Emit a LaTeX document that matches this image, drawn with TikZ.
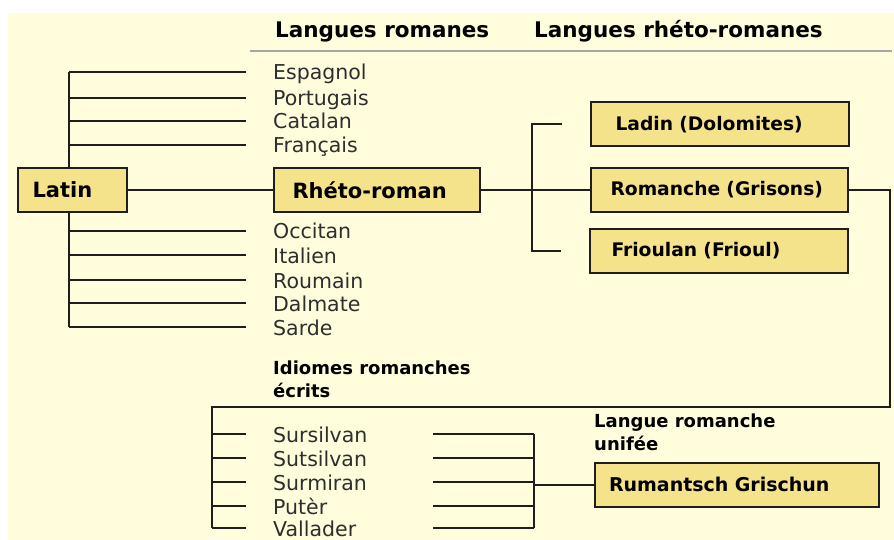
\documentclass[tikz,border=0pt]{standalone}
\usepackage{fontspec}
\setmainfont{DejaVu Sans}
\definecolor{creme}{RGB}{255,253,220}
\definecolor{gelb}{RGB}{245,227,140}
\definecolor{strich}{RGB}{30,30,30}
\tikzset{
	kasten/.style={draw=strich, line width=2pt, fill=gelb, rectangle, minimum height=44pt, align=left, font=\bfseries\fontsize{21}{24}\selectfont},
	kastenklein/.style={kasten, font=\bfseries\fontsize{18.7}{22}\selectfont},
	sprache/.style={anchor=west, inner sep=0pt, text height=19pt, text depth=3pt, text=black!82, font=\fontsize{20.5}{24}\selectfont},
	titel/.style={anchor=base west, inner sep=0pt, font=\bfseries\fontsize{21.5}{26}\selectfont},
	untertitel/.style={anchor=base west, inner sep=0pt, align=left, font=\bfseries\fontsize{18}{23}\selectfont},
	ast/.style={draw=strich, line width=2pt}
}
\begin{document}
\begin{tikzpicture}[x=1pt,y=-1pt]
		\useasboundingbox (0,0) rectangle (894,540);
		% Hintergrund
		\fill[creme] (8,13) rectangle (894,540);
		\draw[gray!70, line width=1.5pt] (250,51) -- (892,51);
		% Titel
		\node[titel] (romanes) at (275,38) {Langues romanes};
		\node[titel] (rhetoromanes) at (534,38) {Langues rhéto-romanes};
		% Stamm Latin
		\coordinate (stamm-o) at (69,72);
		\coordinate (stamm-u) at (69,327);
		\draw[ast] (stamm-o) -- (stamm-u);
		\node[kasten, text width=79pt, inner xsep=15pt] (latin) at (72,190) {Latin};
		\node[kasten, text width=168pt, inner xsep=19pt] (rhetoroman) at (376.5,190) {Rhéto-roman};
		\draw[ast] (latin) -- (rhetoroman);
		% Langues romanes
		\foreach \n/\t/\y in {esp/Espagnol/72, por/Portugais/98, cat/Catalan/121, fra/Français/145, occ/Occitan/231, ita/Italien/255, rou/Roumain/280, dal/Dalmate/303, sar/Sarde/327} {
			\node[sprache] (\n) at (273,\y) {\t};
			\draw[ast] (stamm-o |- \n.west) -- ([xshift=-27pt]\n.west);
		}
		% Langues rhéto-romanes
		\node[kastenklein, text width=208pt, inner xsep=25pt] (ladin) at (719.5,124.5) {Ladin (Dolomites)};
		\node[kastenklein, text width=217pt, inner xsep=20pt] (romanche) at (719,190) {Romanche (Grisons)};
		\node[kastenklein, text width=214pt, inner xsep=22pt] (frioulan) at (718.5,251) {Frioulan (Frioul)};
		\draw[ast] (rhetoroman) -- (romanche);
		\draw[ast] ([xshift=-28pt]ladin.west) -| ([xshift=-57pt]frioulan.west) -- ([xshift=-28pt]frioulan.west);
		% Idiomes
		\node[untertitel] (idiomes) at (273,397) {Idiomes romanches\\écrits};
		\coordinate (ecke-r) at (890,407);
		\coordinate (ecke-l) at (212,407);
		\coordinate (rechts-o) at (534,434);
		\coordinate (rechts-u) at (534,528);
		\foreach \n/\t/\y in {sur/Sursilvan/434, sut/Sutsilvan/458, sum/Surmiran/482, put/Putèr/506, val/Vallader/528} {
			\node[sprache] (\n) at (273,\y) {\t};
			\draw[ast] (ecke-l |- \n.west) -- ([xshift=-27pt]\n.west);
			\draw[ast] ([xshift=160pt]\n.west) -- (rechts-o |- \n.west);
		}
		\draw[ast] (romanche.east) -| (ecke-r) -- (ecke-l) -- (ecke-l |- val.west);
		\draw[ast] (rechts-o) -- (rechts-u);
		% Rumantsch Grischun
		\node[untertitel] (unifee) at (594,450) {Langue romanche\\unifée};
		\node[kastenklein, font=\bfseries\fontsize{19}{22}\selectfont, text width=256pt, inner xsep=14pt] (rumantsch) at (737,484.5) {Rumantsch Grischun};
		\draw[ast] (rechts-o |- rumantsch) -- (rumantsch);
\end{tikzpicture}
\end{document}
